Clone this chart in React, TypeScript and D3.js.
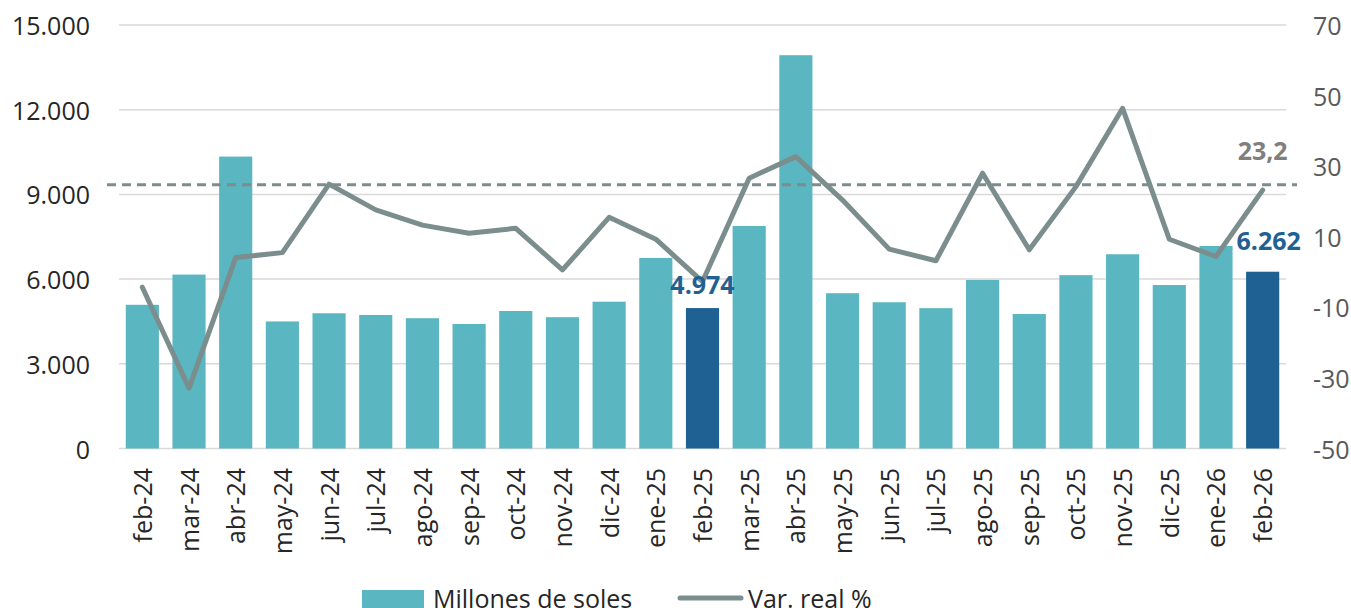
import React from "react";
import * as d3 from "d3";

const categories = ["feb-24","mar-24","abr-24","may-24","jun-24","jul-24","ago-24","sep-24","oct-24","nov-24","dic-24","ene-25","feb-25","mar-25","abr-25","may-25","jun-25","jul-25","ago-25","sep-25","oct-25","nov-25","dic-25","ene-26","feb-26"];
const millones = [5090,6160,10340,4500,4790,4730,4615,4410,4870,4650,5200,6750,4974,7880,13930,5500,5180,4970,5970,4765,6140,6880,5790,7175,6262];
const varReal = [-4.3,-32.9,4.1,5.5,24.9,17.6,13.3,11.0,12.4,0.6,15.5,9.3,-2.7,26.6,32.7,20.4,6.5,3.2,28.0,6.3,24.2,46.4,9.3,4.4,23.2];
const highlighted = ["feb-25","feb-26"];
const referenceVar = 24.7;
const leftTicks = [0,3000,6000,9000,12000,15000];
const rightTicks = [-50,-30,-10,10,30,50,70];
const legendLabels = ["Millones de soles","Var. real %"];

const W = 1351, H = 608;
const TOP = 25, BOTTOM = 448.5, LEFT = 119, RIGHT = 1286;
const FONT = "'Open Sans', 'Noto Sans', sans-serif";
const TEAL = "#5AB6C0";
const DARK = "#1F6193";
const LINE = "#7B8D8D";

const fmt = (v: number) => d3.format(",")(v).replace(/,/g, ".");
const fmtDec = (v: number) => v.toFixed(1).replace(".", ",");

export default function App() {
  const x = d3.scaleBand<string>().domain(categories).range([LEFT, RIGHT]).paddingInner(0.29).paddingOuter(0.145);
  const yL = d3.scaleLinear().domain([0, 15000]).range([BOTTOM, TOP]);
  const yR = d3.scaleLinear().domain([-50, 70]).range([BOTTOM, TOP]);
  const cx = (c: string) => (x(c) as number) + x.bandwidth() / 2;
  const line = d3.line<number>().x((_, i) => cx(categories[i])).y((d) => yR(d));
  const last = categories.length - 1;
  const i25 = categories.indexOf("feb-25");

  return (
    <svg width={W} height={H} style={{ position: "absolute", left: 0, top: 0, display: "block", background: "#fff" }} fontFamily={FONT}>
      {leftTicks.map((t) => (
        <line key={"g" + t} x1={LEFT} x2={RIGHT} y1={yL(t)} y2={yL(t)} stroke="#D9D9D9" strokeWidth={1.5} />
      ))}
      {leftTicks.map((t) => (
        <text key={"l" + t} x={90} y={yL(t)} textAnchor="end" dominantBaseline="central" fontSize={25} fill="#262626">{fmt(t)}</text>
      ))}
      {rightTicks.map((t) => (
        <text key={"r" + t} x={1313} y={yR(t)} textAnchor="start" dominantBaseline="central" fontSize={25} fill="#595959">{t}</text>
      ))}
      {categories.map((c, i) => (
        <rect key={"b" + c} x={x(c)} y={yL(millones[i])} width={x.bandwidth()} height={yL(0) - yL(millones[i])} fill={highlighted.includes(c) ? DARK : TEAL} />
      ))}
      <line x1={107} x2={1297} y1={yR(referenceVar)} y2={yR(referenceVar)} stroke={LINE} strokeWidth={3} strokeDasharray="9,6" />
      <path d={line(varReal) || ""} fill="none" stroke={LINE} strokeWidth={5} strokeLinejoin="round" strokeLinecap="round" />
      {categories.map((c) => (
        <text key={"x" + c} transform={`translate(${cx(c)},468) rotate(-90)`} y={9.5} textAnchor="end" fontSize={25} fill="#262626">{c}</text>
      ))}
      <text x={cx(categories[i25])} y={yL(millones[i25]) - 14} textAnchor="middle" fontSize={25} fontWeight="bold" fill={DARK}>{fmt(millones[i25])}</text>
      <text x={cx(categories[last]) + 6} y={yL(millones[last]) - 22} textAnchor="middle" fontSize={25} fontWeight="bold" fill={DARK}>{fmt(millones[last])}</text>
      <text x={cx(categories[last])} y={yR(varReal[last]) - 30} textAnchor="middle" fontSize={25} fontWeight="bold" fill="#7F7F7F">{fmtDec(varReal[last])}</text>
      <rect x={362} y={590} width={62} height={20} fill={TEAL} />
      <text x={433} y={608} fontSize={25} fill="#262626">{legendLabels[0]}</text>
      <line x1={680} x2={741} y1={598} y2={598} stroke={LINE} strokeWidth={5} strokeLinecap="round" />
      <text x={748} y={608} fontSize={25} fill="#262626">{legendLabels[1]}</text>
    </svg>
  );
}
